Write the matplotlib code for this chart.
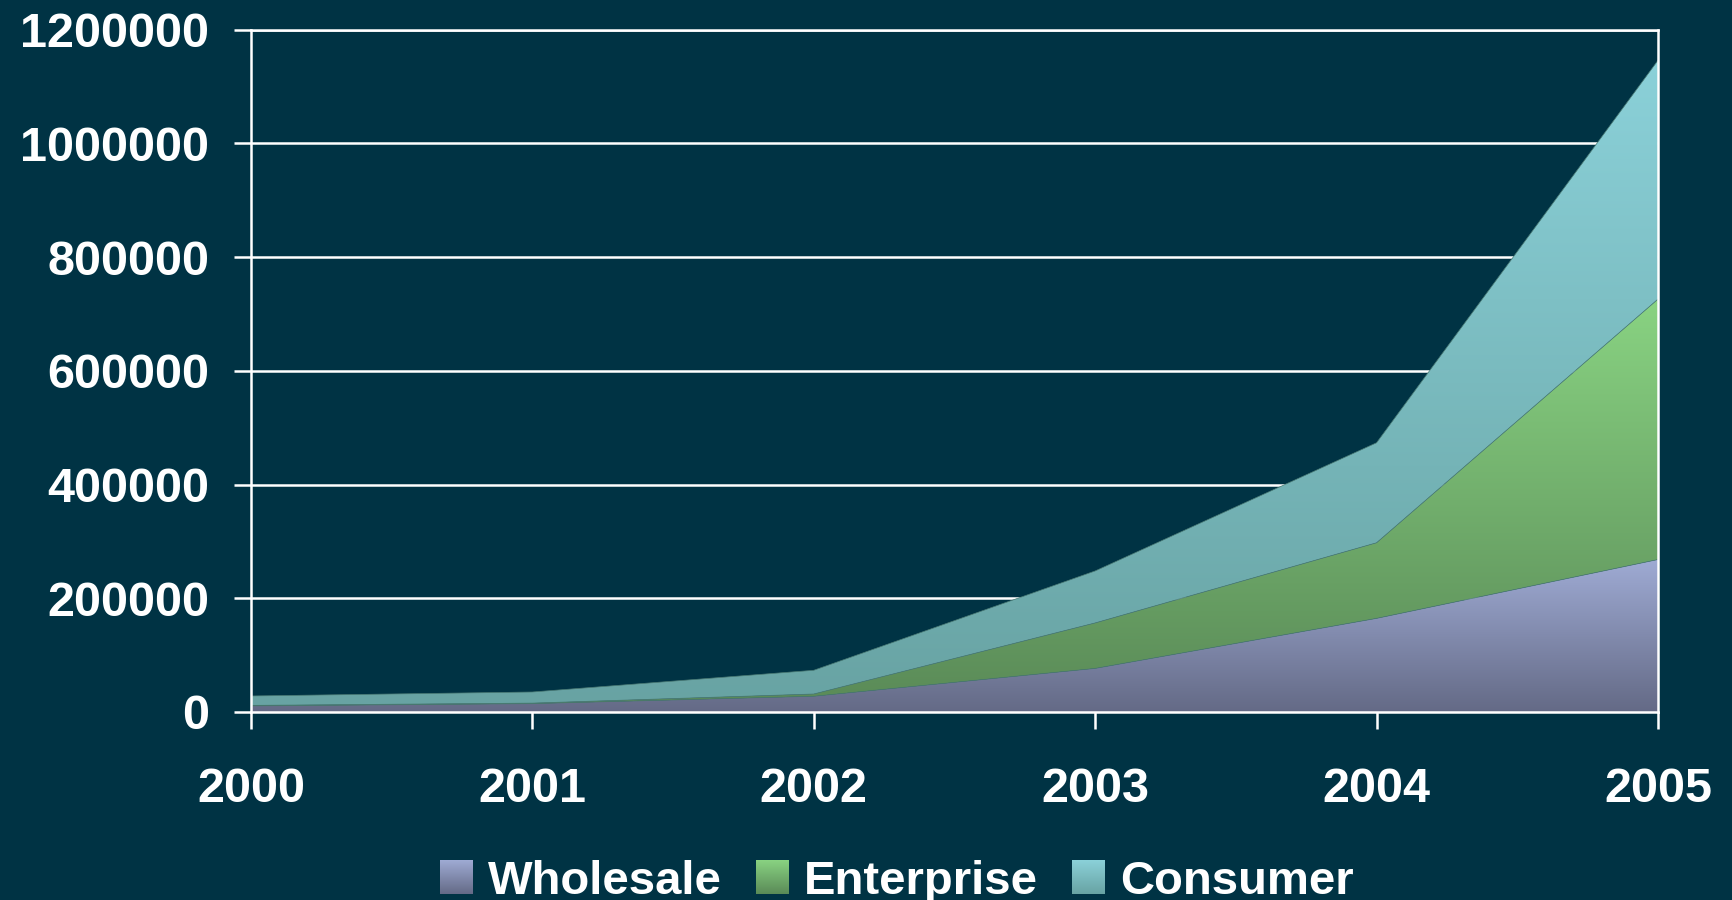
import numpy as np
import matplotlib.pyplot as plt
from matplotlib.colors import LinearSegmentedColormap
from matplotlib.patches import Polygon, Rectangle
from matplotlib.legend_handler import HandlerBase
from matplotlib.image import BboxImage
from matplotlib.transforms import Bbox, TransformedBbox

years = [2000, 2001, 2002, 2003, 2004, 2005]
wholesale = [10500, 14500, 27500, 76500, 164500, 268000]
enterprise = [1000, 1000, 4000, 80000, 133000, 458000]
consumer = [16500, 19500, 41700, 91400, 175900, 420000]
names = ['Wholesale', 'Enterprise', 'Consumer']
yticks = [0, 200000, 400000, 600000, 800000, 1000000, 1200000]

bg = '#003344'
grads = [('#646a86', '#9fabd4'), ('#5a8a57', '#89d382'), ('#68a3a3', '#8bd1d9')]

plt.rcParams['font.family'] = ['Liberation Sans', 'DejaVu Sans']
plt.rcParams['font.weight'] = 'bold'

fig = plt.figure(figsize=(17.33, 9), dpi=100, facecolor=bg)
ax = fig.add_axes([0.1448, 0.209, 0.8119, 0.758])
ax.set_facecolor(bg)

grad = np.linspace(0, 1, 256).reshape(-1, 1)
x = np.array(years, dtype=float)
lower = np.zeros(len(years))
cmaps = []
for vals, (c0, c1) in zip([wholesale, enterprise, consumer], grads):
    upper = lower + np.array(vals)
    cm = LinearSegmentedColormap.from_list('g', [c0, c1])
    cmaps.append(cm)
    verts = list(zip(x, upper)) + list(zip(x[::-1], lower[::-1]))
    poly = Polygon(verts, closed=True, facecolor='none', edgecolor='none', zorder=2)
    ax.add_patch(poly)
    im = ax.imshow(grad, cmap=cm, origin='lower', aspect='auto',
                   extent=[x[0], x[-1], lower.min(), upper.max()], zorder=2,
                   interpolation='bilinear')
    im.set_clip_path(poly)
    ax.plot(x, upper, color='#4a7a74', lw=0.5, zorder=3)
    lower = upper

ax.set_xlim(2000, 2005)
ax.set_ylim(0, 1200000)
ax.set_xticks(years)
ax.set_yticks(yticks)
ax.set_xticklabels([str(y) for y in years])
ax.set_yticklabels([str(v) for v in yticks])
ax.grid(axis='y', color='white', lw=1.8, zorder=1)
ax.set_axisbelow(True)
for s in ax.spines.values():
    s.set_color('white')
    s.set_linewidth(1.8)
    s.set_zorder(4)
ax.tick_params(axis='both', colors='white', labelsize=35, length=12, width=1.8, direction='out')
ax.tick_params(axis='y', pad=18)
ax.tick_params(axis='x', pad=28)


class GradHandler(HandlerBase):
    def create_artists(self, legend, orig_handle, xdescent, ydescent, width, height, fontsize, trans):
        bb = TransformedBbox(Bbox.from_bounds(-xdescent, -ydescent, width, height), trans)
        img = BboxImage(bb, cmap=orig_handle.cmap, origin='lower', interpolation='bilinear')
        img.set_data(grad)
        return [img]


class GradKey(Rectangle):
    def __init__(self, cmap):
        super().__init__((0, 0), 1, 1)
        self.cmap = cmap


keys = [GradKey(cm) for cm in cmaps]
fig.legend(keys, names, handler_map={GradKey: GradHandler()}, loc='center',
           bbox_to_anchor=(0.5176, 0.020), ncol=3, frameon=False, fontsize=34,
           labelcolor='white', handlelength=0.68, handleheight=0.7,
           handletextpad=0.34, columnspacing=0.72, borderpad=0)

fig.savefig('out.png', dpi=100, facecolor=bg)
